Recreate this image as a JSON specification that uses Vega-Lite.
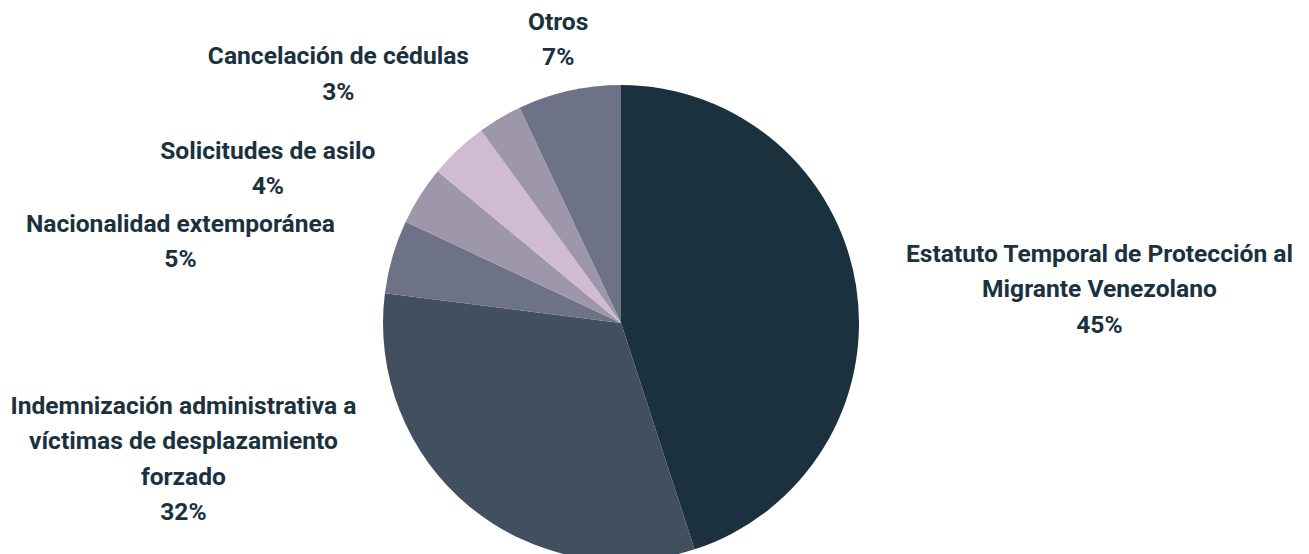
{
  "$schema": "https://vega.github.io/schema/vega-lite/v6.json",
  "width": 1242,
  "height": 462,
  "padding": {"left": 0, "top": 92, "right": 67, "bottom": 0},
  "autosize": {"type": "none"},
  "background": "white",
  "config": {"view": {"stroke": null}, "text": {"font": "Roboto", "fontWeight": "bold", "fontSize": 24.6, "lineHeight": 35.5, "color": "#1b323e", "align": "center", "baseline": "middle"}},
  "data": {
    "values": [
      {"orden": 1, "categoria": "Estatuto Temporal de Protección al Migrante Venezolano", "pct": 45, "etiqueta": ["Estatuto Temporal de Protección al", "Migrante Venezolano", "45%"]},
      {"orden": 2, "categoria": "Indemnización administrativa a víctimas de desplazamiento forzado", "pct": 32, "etiqueta": ["Indemnización administrativa a", "víctimas de desplazamiento", "forzado", "32%"]},
      {"orden": 3, "categoria": "Nacionalidad extemporánea", "pct": 5, "etiqueta": ["Nacionalidad extemporánea", "5%"]},
      {"orden": 4, "categoria": "Solicitudes de asilo", "pct": 4, "etiqueta": ["Solicitudes de asilo", "4%"]},
      {"orden": 5, "categoria": "Sin etiqueta", "pct": 4, "etiqueta": [""]},
      {"orden": 6, "categoria": "Cancelación de cédulas", "pct": 3, "etiqueta": ["Cancelación de cédulas", "3%"]},
      {"orden": 7, "categoria": "Otros", "pct": 7, "etiqueta": ["Otros", "7%"]}
    ]
  },
  "encoding": {
    "theta": {"field": "pct", "type": "quantitative", "stack": true},
    "order": {"field": "orden", "type": "quantitative"}
  },
  "layer": [
    {
      "mark": {"type": "arc", "outerRadius": 238, "stroke": null},
      "encoding": {
        "color": {
          "field": "categoria",
          "type": "nominal",
          "legend": null,
          "sort": null,
          "scale": {
            "domain": ["Estatuto Temporal de Protección al Migrante Venezolano", "Indemnización administrativa a víctimas de desplazamiento forzado", "Nacionalidad extemporánea", "Solicitudes de asilo", "Sin etiqueta", "Cancelación de cédulas", "Otros"],
            "range": ["#1b323e", "#414f5e", "#6d7286", "#9e97ab", "#cfbcd1", "#9e97ab", "#6d7286"]
          }
        }
      }
    },
    {
      "mark": {"type": "text", "radius": 288, "dx": 194, "dy": -23},
      "encoding": {"text": {"condition": {"test": "datum.orden === 1", "field": "etiqueta"}, "value": ""}}
    },
    {
      "mark": {"type": "text", "radius": 288, "dx": -254, "dy": -138},
      "encoding": {"text": {"condition": {"test": "datum.orden === 2", "field": "etiqueta"}, "value": ""}}
    },
    {
      "mark": {"type": "text", "radius": 288, "dx": -164, "dy": -18},
      "encoding": {"text": {"condition": {"test": "datum.orden === 3", "field": "etiqueta"}, "value": ""}}
    },
    {
      "mark": {"type": "text", "radius": 288, "dx": -110, "dy": -17},
      "encoding": {"text": {"condition": {"test": "datum.orden === 4", "field": "etiqueta"}, "value": ""}}
    },
    {
      "mark": {"type": "text", "radius": 288, "dx": -136, "dy": -18},
      "encoding": {"text": {"condition": {"test": "datum.orden === 6", "field": "etiqueta"}, "value": ""}}
    },
    {
      "mark": {"type": "text", "radius": 288, "dx": 0, "dy": -19},
      "encoding": {"text": {"condition": {"test": "datum.orden === 7", "field": "etiqueta"}, "value": ""}}
    }
  ]
}
